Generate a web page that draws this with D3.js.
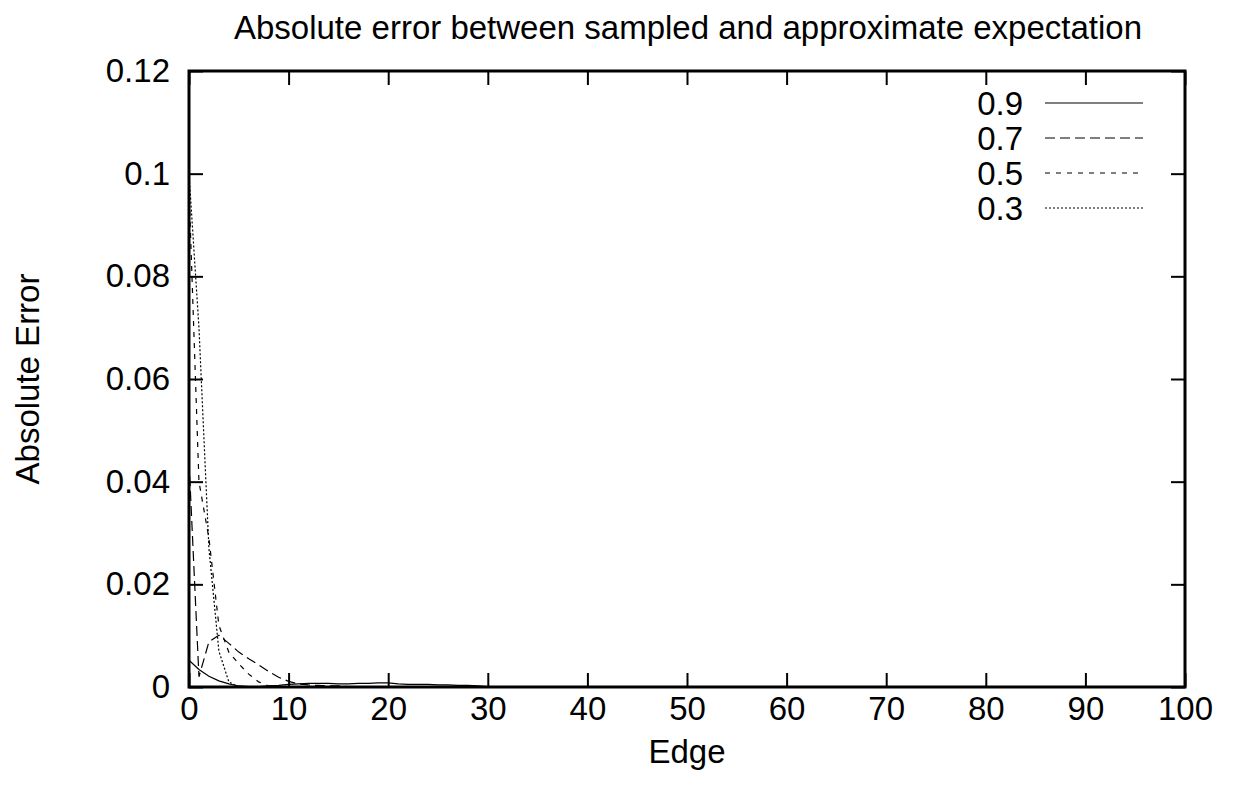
<html>

<head>
    <script src="https://d3js.org/d3.v7.min.js"></script>
    <style>
        body {
            margin: 0;
            background: #fff;
        }

        text {
            font-family: "Liberation Sans", Arial, sans-serif;
            fill: #000;
        }
    </style>
</head>

<body>
    <svg height="798" width="1235" id="errSvg"></svg>
    <script>
        // edges 0..35, absolute error per probability
        const edges = d3.range(0, 36);
        const err09 = [0.0052, 0.0034, 0.0021, 0.0012, 0.0006, 0.0002, 0.0001, 0.0001, 0.0002, 0.0003,
            0.0005, 0.0006, 0.0007, 0.0007, 0.0007, 0.0006, 0.0006, 0.0007, 0.0007, 0.0008,
            0.0008, 0.0006, 0.0005, 0.0005, 0.0005, 0.0004, 0.0004, 0.0003, 0.0003, 0.0002,
            0.0001, 0.0001, 0, 0, 0, 0];
        const err07 = [0.044, 0.002, 0.0088, 0.0101, 0.0085, 0.0068, 0.0055, 0.0043, 0.0030, 0.0019,
            0.0011, 0.0006, 0.0004, 0.0003, 0.0002, 0.0002, 0.0001, 0.0001, 0.0001, 0.0001,
            0.0001, 0.0001, 0, 0, 0, 0, 0, 0, 0, 0,
            0, 0, 0, 0, 0, 0];
        const err05 = [0.097, 0.040, 0.029, 0.012, 0.0068, 0.0045, 0.0025, 0.0010, 0.0002, 0.0001,
            0.0001, 0.0001, 0.0001, 0.0001, 0, 0, 0, 0, 0, 0,
            0, 0, 0, 0, 0, 0, 0, 0, 0, 0,
            0, 0, 0, 0, 0, 0];
        const err03 = [0.100, 0.070, 0.027, 0.007, 0.001, 0, 0, 0.0001, 0.0001, 0.0001,
            0.0001, 0, 0, 0, 0, 0, 0, 0, 0, 0,
            0, 0, 0, 0, 0, 0, 0, 0, 0, 0,
            0, 0, 0, 0, 0, 0];

        const seriesNames = ["0.9", "0.7", "0.5", "0.3"];
        const seriesValues = [err09, err07, err05, err03];
        const dashes = ["none", "10,5", "5,6", "2,2"];

        const xTicks = d3.range(0, 101, 10);
        const yTicks = [0, 0.02, 0.04, 0.06, 0.08, 0.1, 0.12];
        const yTickLabels = ["0", "0.02", "0.04", "0.06", "0.08", "0.1", "0.12"];

        const svg = d3.select("#errSvg");
        const margins = { top: 71, right: 50, bottom: 111, left: 189 };
        const chartWidth = 1235 - margins.left - margins.right;
        const chartHeight = 798 - margins.top - margins.bottom;
        const fontSize = 33;
        const tickLen = 14;

        const xScale = d3.scaleLinear().domain([0, 100]).range([0, chartWidth]);
        const yScale = d3.scaleLinear().domain([0, 0.12]).range([chartHeight, 0]);

        let chartArea = svg.append("g")
            .attr("transform", `translate(${margins.left},${margins.top})`);

        // ticks, inward on all four sides (gnuplot mirror style)
        let bottomAxis = d3.axisBottom(xScale).tickValues(xTicks).tickSize(-tickLen).tickPadding(10);
        chartArea.append("g")
            .attr("transform", `translate(0,${chartHeight})`)
            .call(bottomAxis);
        let topAxis = d3.axisTop(xScale).tickValues(xTicks).tickSize(-tickLen).tickFormat("");
        chartArea.append("g").call(topAxis);

        let leftAxis = d3.axisLeft(yScale).tickValues(yTicks).tickSize(-tickLen)
            .tickPadding(19)
            .tickFormat((d, i) => yTickLabels[i]);
        chartArea.append("g").call(leftAxis);
        let rightAxis = d3.axisRight(yScale).tickValues(yTicks).tickSize(-tickLen).tickFormat("");
        chartArea.append("g")
            .attr("transform", `translate(${chartWidth},0)`)
            .call(rightAxis);

        chartArea.selectAll(".domain").remove();
        chartArea.selectAll(".tick line").attr("stroke", "#000").attr("stroke-width", 2);
        chartArea.selectAll(".tick text")
            .style("font-family", "'Liberation Sans', Arial, sans-serif")
            .style("font-size", fontSize + "px")
            .attr("fill", "#000");

        // lines
        const line = d3.line()
            .x((d, i) => xScale(edges[i]))
            .y(d => yScale(d));

        seriesValues.forEach((vals, k) => {
            chartArea.append("path")
                .datum(vals)
                .attr("fill", "none")
                .attr("stroke", "#000")
                .attr("stroke-width", 1.2)
                .attr("stroke-dasharray", dashes[k])
                .attr("d", line);
        });

        // frame
        chartArea.append("rect")
            .attr("width", chartWidth)
            .attr("height", chartHeight)
            .attr("fill", "none")
            .attr("stroke", "#000")
            .attr("stroke-width", 3);

        // legend
        let legend = chartArea.append("g");
        seriesNames.forEach((name, k) => {
            const ly = 32 + k * 35;
            legend.append("text")
                .attr("x", 834)
                .attr("y", ly)
                .attr("dy", "0.36em")
                .attr("text-anchor", "end")
                .style("font-size", fontSize + "px")
                .text(name);
            legend.append("line")
                .attr("x1", 856)
                .attr("x2", 954)
                .attr("y1", ly)
                .attr("y2", ly)
                .attr("stroke", "#000")
                .attr("stroke-width", 1.2)
                .attr("stroke-dasharray", dashes[k]);
        });

        // title and axis labels
        svg.append("text")
            .attr("text-anchor", "middle")
            .attr("x", 688)
            .attr("y", 39)
            .style("font-size", fontSize + "px")
            .text("Absolute error between sampled and approximate expectation");

        svg.append("text")
            .attr("text-anchor", "middle")
            .attr("x", margins.left + chartWidth / 2)
            .attr("y", 763)
            .style("font-size", fontSize + "px")
            .text("Edge");

        svg.append("text")
            .attr("text-anchor", "middle")
            .attr("x", -(margins.top + chartHeight / 2))
            .attr("y", 39)
            .attr("transform", "rotate(-90)")
            .style("font-size", fontSize + "px")
            .text("Absolute Error");
    </script>
</body>

</html>
